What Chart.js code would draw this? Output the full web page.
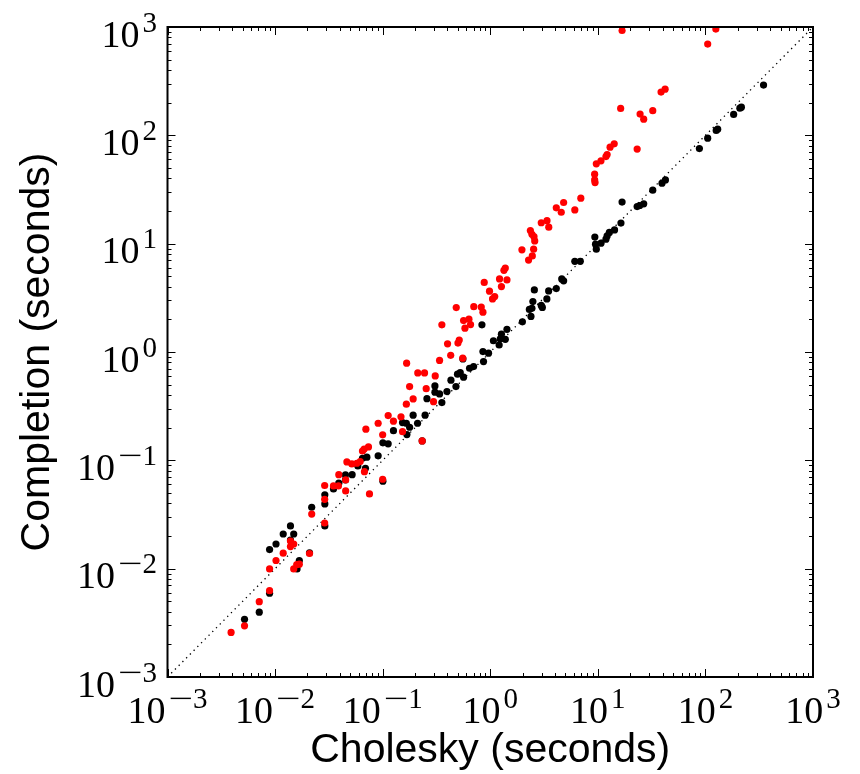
<!DOCTYPE html>
<html>
<head>
<meta charset="utf-8">
<script src="https://cdn.jsdelivr.net/npm/chart.js@4/dist/chart.umd.min.js"></script>
<style>
  html, body { margin: 0; padding: 0; background: #fff; }
  #wrap { width: 860px; height: 774px; }
</style>
</head>
<body>
<div id="wrap"><canvas id="c" width="860" height="774"></canvas></div>
<script>
// Decades shown on both log axes
const decadeExponents = [-3, -2, -1, 0, 1, 2, 3];

// Black series: Cholesky time vs completion time (seconds)
const blackChol = [
  0.0052, 0.00713, 0.00889, 0.00889, 0.0102, 0.0119, 0.0139, 0.0149, 0.0139, 0.0160,
  0.0168, 0.0209, 0.0219, 0.0290, 0.0290, 0.0290, 0.0349, 0.0391, 0.0451, 0.0451,
  0.0520, 0.0588, 0.0649, 0.0713, 0.0692, 0.0908, 0.1005, 0.1125, 0.1005, 0.126,
  0.153, 0.166, 0.178, 0.168, 0.192, 0.211, 0.233, 0.248, 0.258, 0.306,
  0.306, 0.338, 0.355, 0.396, 0.431, 0.480, 0.496, 0.526, 0.565, 0.557,
  0.642, 0.700, 0.855, 0.866, 0.964, 0.837, 1.07, 1.24, 1.38, 1.21,
  1.27, 1.43, 1.99, 2.39, 2.31, 2.44, 2.49, 2.98, 3.05, 3.36,
  3.49, 2.57, 4.11, 4.62, 4.81, 6.11, 6.87, 9.38, 9.52, 9.68,
  10.7, 11.9, 12.2, 12.8, 14.3, 16.4, 16.8, 23.2, 24.5, 26.7,
  32.4, 39.5, 42.5, 87.9, 105, 126, 130, 183, 209, 216, 347
];
const blackCompletion = [
  0.00341, 0.00397, 0.00593, 0.0150, 0.0169, 0.0209, 0.0248, 0.0209, 0.0184, 0.00994,
  0.0119, 0.0140, 0.0369, 0.0480, 0.0396, 0.0248, 0.0544, 0.0615, 0.0659, 0.0733,
  0.0738, 0.0888, 0.1045, 0.107, 0.0845, 0.110, 0.145, 0.142, 0.0641, 0.188,
  0.223, 0.220, 0.202, 0.173, 0.261, 0.220, 0.151, 0.261, 0.371, 0.486,
  0.426, 0.410, 0.341, 0.431, 0.549, 0.480, 0.624, 0.645, 0.585, 0.863,
  0.708, 0.733, 1.01, 0.815, 0.975, 1.78, 1.27, 1.32, 1.31, 1.16,
  1.46, 1.62, 1.90, 2.13, 2.47, 2.53, 2.92, 2.69, 2.58, 3.09,
  3.66, 3.74, 3.85, 4.73, 4.54, 6.87, 6.87, 11.5, 9.89, 8.90,
  10.1, 11.0, 11.8, 12.7, 13.4, 15.5, 24.2, 22.0, 22.5, 23.3,
  31.2, 36.2, 38.8, 75.5, 94.2, 111, 114, 156, 178, 182, 291
];

// Red series: Cholesky time vs completion time (seconds)
const redChol = [
  0.0039, 0.0052, 0.00713, 0.00889, 0.00889, 0.0102, 0.0119, 0.0139, 0.0149, 0.0139,
  0.0149, 0.0159, 0.0168, 0.0209, 0.0219, 0.0289, 0.0289, 0.0289, 0.0349, 0.0388,
  0.0391, 0.0453, 0.0453, 0.0465, 0.0517, 0.0575, 0.0618, 0.0649, 0.0673, 0.0738,
  0.0677, 0.0698, 0.0754, 0.0908, 0.100, 0.100, 0.1125, 0.126, 0.148, 0.153,
  0.166, 0.178, 0.192, 0.167, 0.212, 0.245, 0.233, 0.254, 0.297, 0.308,
  0.338, 0.401, 0.429, 0.355, 0.501, 0.515, 0.555, 0.483, 0.565, 0.634,
  0.656, 0.582, 0.703, 0.825, 0.855, 0.879, 0.984, 1.10, 1.05, 1.22,
  1.43, 1.27, 1.38, 1.34, 1.97, 2.53, 2.46, 2.27, 2.36, 2.44,
  2.55, 2.59, 2.98, 3.37, 3.50, 4.11, 4.57, 4.81, 6.11, 6.95,
  9.34, 9.34, 9.42, 9.68, 10.7, 11.9, 12.2, 13.0, 14.2, 16.3,
  16.8, 23.2, 24.7, 26.7, 32.4, 38.7, 42.2, 105, 125
];
const redCompletion = [
  0.00258, 0.00297, 0.00496, 0.00626, 0.00994, 0.0119, 0.0139, 0.0180, 0.0169, 0.0160,
  0.00994, 0.0109, 0.0110, 0.0138, 0.0319, 0.0586, 0.0437, 0.0264, 0.0580, 0.0580,
  0.0738, 0.0659, 0.0522, 0.0967, 0.0926, 0.0940, 0.0973, 0.122, 0.127, 0.133,
  0.0785, 0.194, 0.0490, 0.220, 0.172, 0.0669, 0.259, 0.230, 0.252, 0.184,
  0.330, 0.480, 0.369, 0.788, 0.641, 0.641, 0.151, 0.459, 0.348, 0.602,
  0.836, 1.19, 0.931, 1.78, 1.21, 1.29, 0.877, 2.57, 1.95, 2.01,
  1.79, 1.66, 2.62, 2.60, 2.33, 4.39, 3.64, 3.25, 3.09, 4.73,
  4.63, 4.02, 5.95, 5.67, 8.77, 8.90, 7.71, 7.06, 13.2, 12.2,
  11.6, 10.6, 15.6, 16.3, 14.2, 21.4, 19.5, 24.0, 20.5, 26.3,
  43.8, 38.8, 36.6, 54.6, 58.2, 63.7, 66.5, 77.8, 83.5, 177,
  929, 74.6, 157, 141, 169, 251, 267, 695, 957
];

// Reference line y = x across the full range
const diagonal = [0.001, 1000];

function pairs(xs, ys) {
  return xs.map((x, i) => ({ x: x, y: ys[i] }));
}

const SERIF = '"Liberation Serif", "DejaVu Serif", serif';

// Draws the boxed frame, inward major/minor ticks on all four sides and
// the 10^n tick labels with raised exponents.
const frameTicks = {
  id: 'frameTicks',
  afterDatasetsDraw(chart) {
    const { ctx, chartArea: a, scales } = chart;
    const xs = scales.x, ys = scales.y;
    ctx.save();
    ctx.strokeStyle = '#000';
    ctx.lineWidth = 1;
    const first = decadeExponents[0];
    const last = decadeExponents[decadeExponents.length - 1];
    for (let e = first; e <= last; e++) {
      for (let m = 1; m < 10; m++) {
        if (e === last && m > 1) break;
        const v = m * Math.pow(10, e);
        const len = m === 1 ? 8 : 4;
        const px = Math.round(xs.getPixelForValue(v)) + 0.5;
        const py = Math.round(ys.getPixelForValue(v)) + 0.5;
        ctx.beginPath();
        ctx.moveTo(px, a.bottom); ctx.lineTo(px, a.bottom - len);
        ctx.moveTo(px, a.top); ctx.lineTo(px, a.top + len);
        ctx.moveTo(a.left, py); ctx.lineTo(a.left + len, py);
        ctx.moveTo(a.right, py); ctx.lineTo(a.right - len, py);
        ctx.stroke();
      }
    }
    ctx.lineWidth = 2;
    ctx.strokeRect(a.left, a.top, a.right - a.left, a.bottom - a.top);

    ctx.fillStyle = '#000';
    ctx.textBaseline = 'alphabetic';
    ctx.textAlign = 'left';
    const baseFont = '38px ' + SERIF;
    const expFont = '29px ' + SERIF;
    const minusStretch = 1.5;
    const gap = 3;
    function label(e) {
      ctx.font = baseFont;
      const wb = ctx.measureText('10').width;
      ctx.font = expFont;
      const wm = e < 0 ? ctx.measureText('\u2212').width * minusStretch : 0;
      const wd = ctx.measureText(String(Math.abs(e))).width;
      return { e, wb, wm, wd, total: wb + gap + wm + wd };
    }
    function drawLabel(lb, left, baseY) {
      ctx.font = baseFont;
      ctx.fillText('10', left, baseY);
      ctx.font = expFont;
      let x = left + lb.wb + gap;
      const ey = baseY - 15;
      if (lb.e < 0) {
        ctx.save();
        ctx.translate(x, ey);
        ctx.scale(minusStretch, 1);
        ctx.fillText('\u2212', 0, 0);
        ctx.restore();
        x += lb.wm;
      }
      ctx.fillText(String(Math.abs(lb.e)), x, ey);
    }
    decadeExponents.forEach(e => {
      const lb = label(e);
      const px = xs.getPixelForValue(Math.pow(10, e));
      drawLabel(lb, px - lb.total / 2, a.bottom + 46);
      const py = ys.getPixelForValue(Math.pow(10, e));
      drawLabel(lb, a.left - 10.5 - lb.total, py + 19.5);
    });
    ctx.restore();
  }
};

const titleFont = { family: '"Liberation Sans", Arial, sans-serif', size: 41, lineHeight: 1.15 };

new Chart(document.getElementById('c'), {
  type: 'scatter',
  data: {
    datasets: [
      {
        data: pairs(redChol, redCompletion),
        backgroundColor: '#ff0000',
        borderColor: '#ff0000',
        borderWidth: 0,
        pointRadius: 3.6,
        order: 0
      },
      {
        data: pairs(blackChol, blackCompletion),
        backgroundColor: '#000000',
        borderColor: '#000000',
        borderWidth: 0,
        pointRadius: 3.6,
        order: 1
      },
      {
        type: 'line',
        data: diagonal.map(v => ({ x: v, y: v })),
        borderColor: '#000000',
        borderWidth: 1.3,
        borderDash: [1.3, 4],
        pointRadius: 0,
        fill: false,
        order: 2
      }
    ]
  },
  options: {
    responsive: false,
    animation: false,
    devicePixelRatio: 1,
    layout: { padding: { left: 0, right: 47, top: 27, bottom: 0 } },
    plugins: { legend: { display: false }, tooltip: { enabled: false } },
    scales: {
      x: {
        type: 'logarithmic',
        min: 0.001,
        max: 1000,
        grid: { display: false },
        border: { display: false },
        ticks: { display: false },
        title: {
          display: true,
          text: 'Cholesky (seconds)',
          color: '#000',
          font: titleFont,
          padding: { top: 0, bottom: 0 }
        },
        afterFit(s) { s.height = 97; }
      },
      y: {
        type: 'logarithmic',
        min: 0.001,
        max: 1000,
        grid: { display: false },
        border: { display: false },
        ticks: { display: false },
        title: {
          display: true,
          text: 'Completion (seconds)',
          color: '#000',
          font: titleFont,
          padding: { top: 14, bottom: 0 }
        },
        afterFit(s) { s.width = 167.5; }
      }
    }
  },
  plugins: [frameTicks]
});
</script>
</body>
</html>
